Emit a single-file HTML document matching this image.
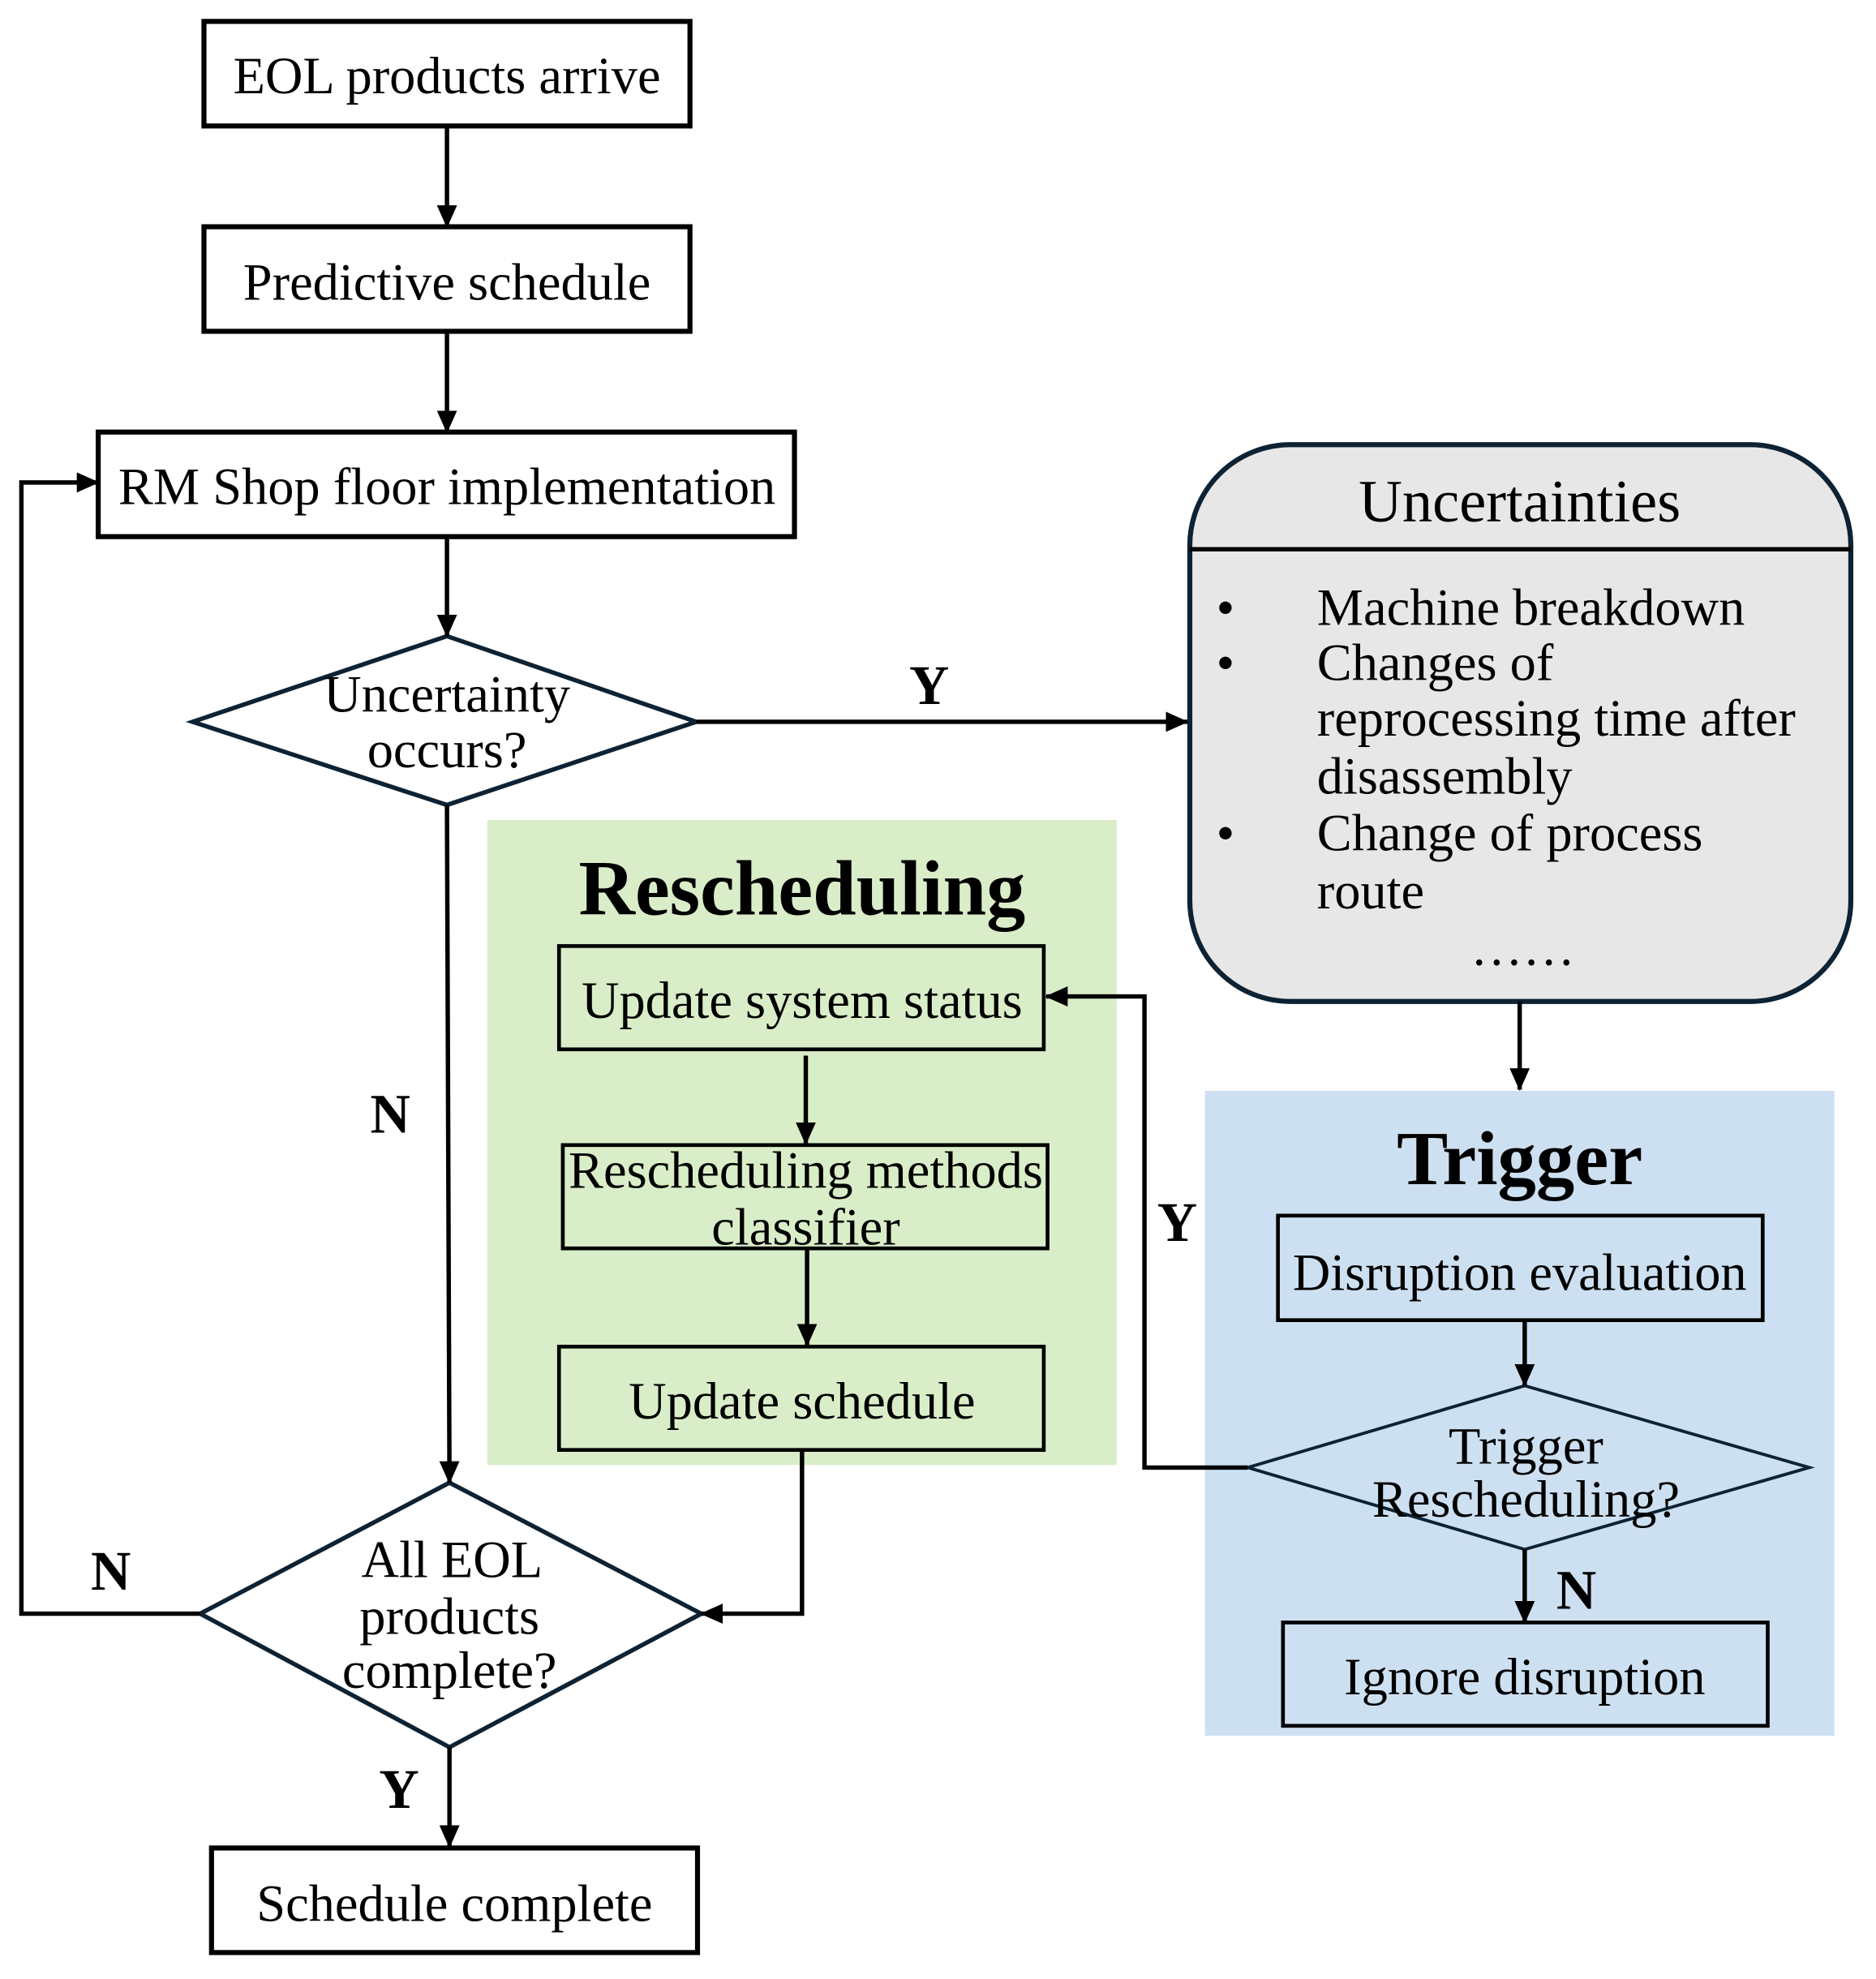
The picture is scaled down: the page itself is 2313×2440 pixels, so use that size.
<!DOCTYPE html>
<html><head><meta charset="utf-8"><style>html,body{margin:0;padding:0;background:#fff}svg{display:block}</style></head>
<body>
<svg xmlns="http://www.w3.org/2000/svg" width="2313" height="2440" viewBox="0 0 1490 1571" preserveAspectRatio="none" font-family="'Liberation Serif', serif">
<defs>
<marker id="b" markerWidth="18" markerHeight="16" refX="17" refY="8" orient="auto" markerUnits="userSpaceOnUse"><path d="M0,0 L18,8 L0,16 z" fill="#000"/></marker>
</defs>
<rect width="1490" height="1571" fill="#fff"/>
<rect x="387" y="651" width="500" height="512" fill="#d9eec8"/>
<rect x="957" y="866" width="500" height="512" fill="#cde0f1"/>
<rect x="945" y="353" width="525" height="442" rx="80" ry="80" fill="#e7e7e7" stroke="#0d2233" stroke-width="4"/>
<line x1="945" y1="436" x2="1470" y2="436" stroke="#000" stroke-width="3.5"/>

<g fill="none" stroke="#000" stroke-width="4">
<rect x="162" y="17" width="386" height="83" fill="#fff"/>
<rect x="162" y="180" width="386" height="83" fill="#fff"/>
<rect x="78" y="343" width="553" height="83" fill="#fff"/>
<rect x="168" y="1467" width="386" height="83" fill="#fff"/>
<rect x="444" y="751" width="385" height="82" stroke-width="3"/>
<rect x="447" y="909" width="385" height="82" stroke-width="3"/>
<rect x="444" y="1069" width="385" height="82" stroke-width="3"/>
<rect x="1015" y="965" width="385" height="83" stroke-width="3"/>
<rect x="1019" y="1288" width="385" height="82" stroke-width="3"/>
</g>
<polygon points="153,573 355,505 553,573 355,639" fill="#fff" stroke="#0d2233" stroke-width="3.5"/>
<polygon points="159,1281 357,1177 557,1281 357,1387" fill="#fff" stroke="#0d2233" stroke-width="3.5"/>
<polygon points="991,1165 1211,1100 1437,1165 1211,1230" fill="none" stroke="#0d2233" stroke-width="2.5"/>

<g fill="none" stroke="#000" stroke-width="3.5" marker-end="url(#b)">
<line x1="355" y1="100" x2="355" y2="180"/>
<line x1="355" y1="263" x2="355" y2="343"/>
<line x1="355" y1="426" x2="355" y2="505"/>
<line x1="553" y1="573" x2="943" y2="573"/>
<line x1="1207" y1="795" x2="1207" y2="865"/>
<line x1="1211" y1="1048" x2="1211" y2="1100"/>
<line x1="1211" y1="1230" x2="1211" y2="1288"/>
<polyline points="991,1165 909,1165 909,791 831,791"/>
<line x1="640" y1="838" x2="640" y2="908"/>
<line x1="641" y1="991" x2="641" y2="1068"/>
<polyline points="637,1151 637,1281 557,1281"/>
<polyline points="355,639 357,1177"/>
<polyline points="159,1281 17,1281 17,383 78,383"/>
<line x1="357" y1="1387" x2="357" y2="1466"/>
</g>

<g font-size="41.5" text-anchor="middle" fill="#000">
<text x="355" y="74">EOL products arrive</text>
<text x="355" y="238">Predictive schedule</text>
<text x="355" y="400">RM Shop floor implementation</text>
<text x="355" y="565">Uncertainty</text>
<text x="355" y="609">occurs?</text>
<text x="359" y="1252">All EOL</text>
<text x="357" y="1297">products</text>
<text x="357" y="1340">complete?</text>
<text x="361" y="1525">Schedule complete</text>
<text x="637" y="808">Update system status</text>
<text x="640" y="943">Rescheduling methods</text>
<text x="640" y="988">classifier</text>
<text x="637" y="1126">Update schedule</text>
<text x="1207" y="1024">Disruption evaluation</text>
<text x="1212" y="1162">Trigger</text>
<text x="1212" y="1204">Rescheduling?</text>
<text x="1211" y="1345">Ignore disruption</text>
<text x="1207" y="414" font-size="48">Uncertainties</text>
</g>
<g font-size="41.5" fill="#000">
<text x="966" y="496">•</text><text x="1046" y="496">Machine breakdown</text>
<text x="966" y="540">•</text><text x="1046" y="540">Changes of</text>
<text x="1046" y="584">reprocessing time after</text>
<text x="1046" y="630">disassembly</text>
<text x="966" y="675">•</text><text x="1046" y="675">Change of process</text>
<text x="1046" y="721">route</text>
<text x="1168" y="766">……</text>
</g>
<g font-weight="bold" text-anchor="middle" fill="#000">
<text x="637" y="726" font-size="62">Rescheduling</text>
<text x="1207" y="940" font-size="61">Trigger</text>
<g font-size="44">
<text x="738" y="559">Y</text>
<text x="935" y="985">Y</text>
<text x="1252" y="1277">N</text>
<text x="310" y="899">N</text>
<text x="88" y="1262">N</text>
<text x="317" y="1435">Y</text>
</g>
</g>
</svg>
</body></html>
